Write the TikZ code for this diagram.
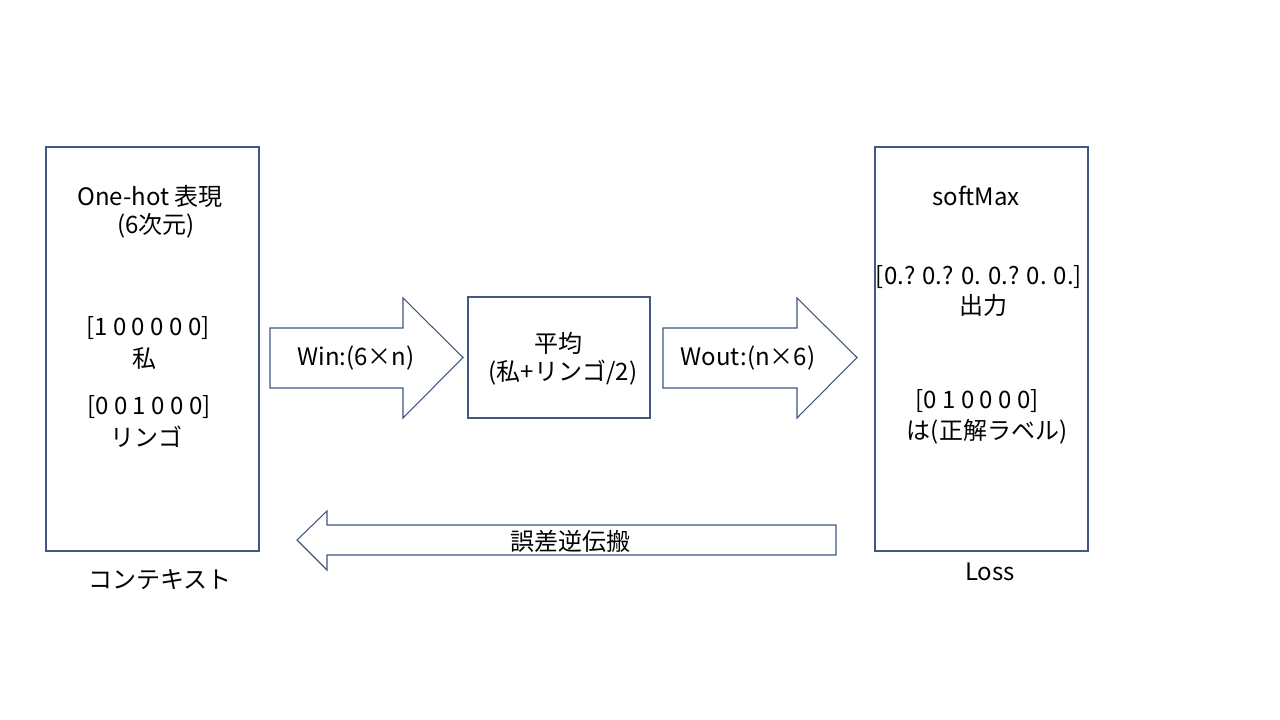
\documentclass[tikz,border=0pt]{standalone}
\usepackage{fontspec}
\setmainfont{Noto Sans CJK JP}
\definecolor{edge}{RGB}{66,88,128}
\begin{document}
\begin{tikzpicture}[x=0.75pt,y=-0.75pt,
  shapeline/.style={draw=edge,line width=0.8pt,line join=miter},
  txt/.style={font=\fontsize{18}{22.5}\selectfont,text=black,inner sep=0pt,align=center}]
\useasboundingbox[fill=white] (0,0) rectangle (1280,720);
% boxes
\draw[shapeline] (46,147) rectangle (259,551);
\draw[shapeline] (468,297) rectangle (650,418);
\draw[shapeline] (875,147) rectangle (1088,551);
% block arrows
\draw[shapeline] (270,328) -- (403,328) -- (403,298) -- (463,357.5) -- (403,418) -- (403,388) -- (270,388) -- cycle;
\draw[shapeline] (663,328) -- (797,328) -- (797,298) -- (857,357.5) -- (797,418) -- (797,388) -- (663,388) -- cycle;
\draw[shapeline] (836,525) -- (327,525) -- (327,511) -- (297,540) -- (327,570) -- (327,555) -- (836,555) -- cycle;
% texts
\node[txt] (onehot) at (150,196) {One-hot 表現};
\node[txt] (dim) at (156,226) {(6次元)};
\node[txt] (vec1) at (148,328) {[1 0 0 0 0 0]};
\node[txt] (w1) at (144,358) {私};
\node[txt] (vec2) at (149,407) {[0 0 1 0 0 0]};
\node[txt] (w2) at (146,437) {リンゴ};
\node[txt] (ctx) at (160,580) {コンテキスト};
\node[txt] (win) at (356,358) {Win:(6×n)};
\node[txt] (avg) at (558,343) {平均};
\node[txt] (avgf) at (563,373) {(私+リンゴ/2)};
\node[txt] (wout) at (748,358) {Wout:(n×6)};
\node[txt] (sm) at (976,196) {softMax};
\node[txt] (out) at (979,277) {[0.? 0.? 0. 0.? 0. 0.]};
\node[txt] (outl) at (983,305) {出力};
\node[txt] (lab) at (977,401) {[0 1 0 0 0 0]};
\node[txt] (labl) at (987,432) {は(正解ラベル)};
\node[txt] (loss) at (990,572) {Loss};
\node[txt] (bp) at (570,541) {誤差逆伝搬};
\end{tikzpicture}
\end{document}
